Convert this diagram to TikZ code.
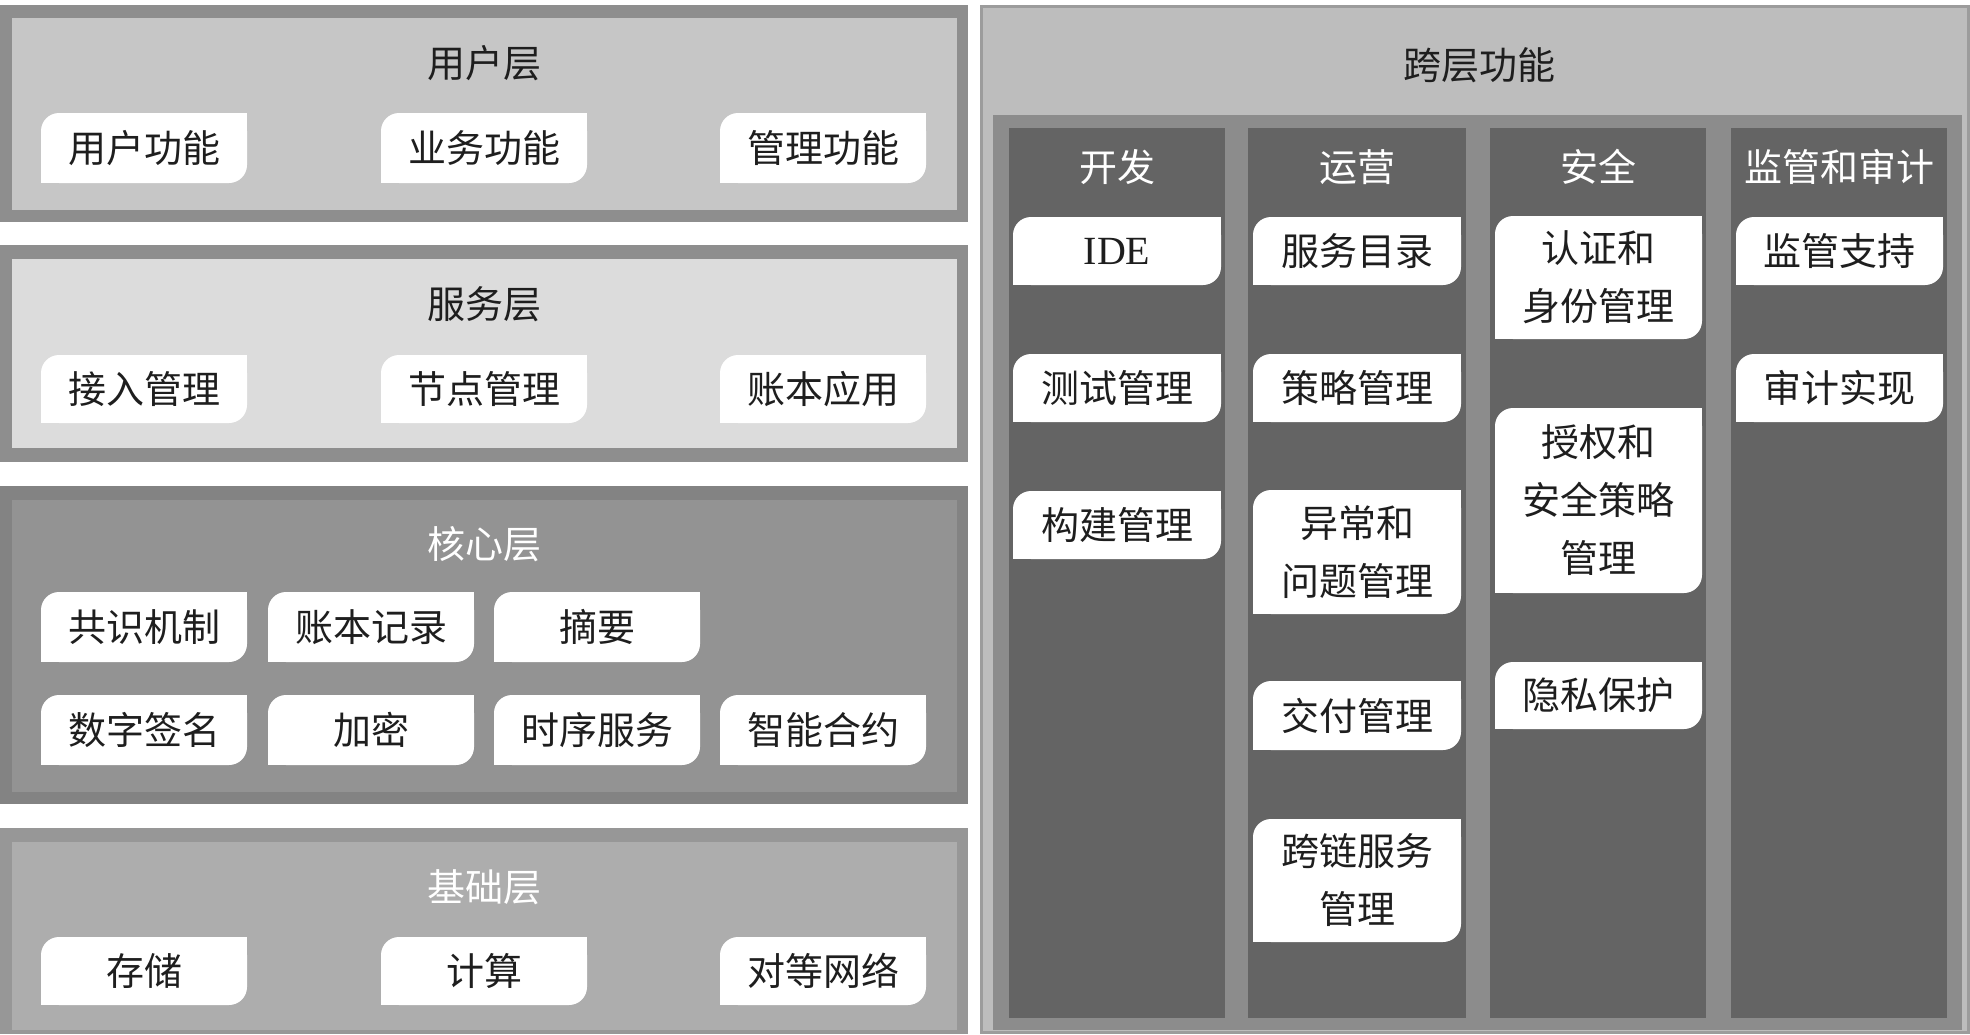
\documentclass[tikz,border=0pt]{standalone}
\usepackage{fontspec}
\newfontfamily\cjk{Noto Sans CJK SC}
\definecolor{pOneB}{HTML}{8E8E8E}
\definecolor{pOneF}{HTML}{C6C6C6}
\definecolor{pTwoB}{HTML}{8E8E8E}
\definecolor{pTwoF}{HTML}{DCDCDC}
\definecolor{pThrB}{HTML}{838383}
\definecolor{pThrF}{HTML}{939393}
\definecolor{pFouB}{HTML}{979797}
\definecolor{pFouF}{HTML}{ADADAD}
\definecolor{rOutF}{HTML}{BDBDBD}
\definecolor{rOutB}{HTML}{9C9C9C}
\definecolor{rFrame}{HTML}{8C8C8C}
\definecolor{rCol}{HTML}{646464}
\definecolor{txt}{HTML}{1E1E1E}
\tikzset{
  leafbox/.style={rectangle, fill=white, rounded corners=18pt, inner sep=0pt, align=center,
    font=\cjk\fontsize{38}{58}\selectfont, text=txt},
  ttl/.style={font=\cjk\fontsize{38}{44}\selectfont, text=#1, inner sep=0pt},
}
\newcommand\leaf[6]{%
  \pgfmathsetmacro\lw{#4-#2}\pgfmathsetmacro\lh{#5-#3}%
  \node[leafbox, minimum width=\lw pt, minimum height=\lh pt] (#1) at ({(#2+#4)/2},{(#3+#5)/2}) {#6};
  \fill[white] (#1.north east) rectangle ++(-20,20);
  \fill[white] (#1.south west) rectangle ++(20,-20);
}
\begin{document}
\begin{tikzpicture}[x=1pt,y=-1pt]
\useasboundingbox (0,0) rectangle (1970,1034);
\fill[white] (0,0) rectangle (1970,1034);
% left panels
\fill[pOneB] (0,5) rectangle (968,222);
\fill[pOneF] (12,18) rectangle (957,210);
\fill[pTwoB] (0,245) rectangle (968,462);
\fill[pTwoF] (12,259) rectangle (957,448);
\fill[pThrB] (0,486) rectangle (968,804);
\fill[pThrF] (12,500) rectangle (957,792);
\fill[pFouB] (0,828) rectangle (968,1034);
\fill[pFouF] (12,842) rectangle (957,1030);
% titles
\node[ttl=txt] (tUser) at (484,63) {用户层};
\node[ttl=txt] (tServ) at (484,304) {服务层};
\node[ttl=white] (tCore) at (484,544) {核心层};
\node[ttl=white] (tBase) at (484,887) {基础层};
% user layer
\leaf{u1}{41}{113}{247}{183}{用户功能}
\leaf{u2}{381}{113}{587}{183}{业务功能}
\leaf{u3}{720}{113}{926}{183}{管理功能}
% service layer
\leaf{s1}{41}{355}{247}{423}{接入管理}
\leaf{s2}{381}{355}{587}{423}{节点管理}
\leaf{s3}{720}{355}{926}{423}{账本应用}
% core layer
\leaf{c1}{41}{592}{247}{662}{共识机制}
\leaf{c2}{268}{592}{474}{662}{账本记录}
\leaf{c3}{494}{592}{700}{662}{摘要}
\leaf{c4}{41}{695}{247}{765}{数字签名}
\leaf{c5}{268}{695}{474}{765}{加密}
\leaf{c6}{494}{695}{700}{765}{时序服务}
\leaf{c7}{720}{695}{926}{765}{智能合约}
% base layer
\leaf{b1}{41}{937}{247}{1005}{存储}
\leaf{b2}{381}{937}{587}{1005}{计算}
\leaf{b3}{720}{937}{926}{1005}{对等网络}
% right panel
\filldraw[fill=rOutF, draw=rOutB, line width=3pt] (981.5,6.5) rectangle (1968.5,1032.5);
\node[ttl=txt] (tCross) at (1479,65) {跨层功能};
\fill[rFrame] (993,115) rectangle (1962,1030);
\fill[rCol] (1009,128) rectangle (1225,1018);
\fill[rCol] (1248,128) rectangle (1466,1018);
\fill[rCol] (1490,128) rectangle (1706,1018);
\fill[rCol] (1731,128) rectangle (1947,1018);
\node[ttl=white] (hDev) at (1117,167) {开发};
\node[ttl=white] (hOps) at (1357,167) {运营};
\node[ttl=white] (hSec) at (1598,167) {安全};
\node[ttl=white] (hAud) at (1839,167) {监管和审计};
% dev
\leaf{d1}{1013}{217}{1221}{285}{\fontspec{Liberation Serif}\fontsize{40}{48}\selectfont IDE}
\leaf{d2}{1013}{354}{1221}{422}{测试管理}
\leaf{d3}{1013}{491}{1221}{559}{构建管理}
% ops
\leaf{o1}{1253}{217}{1461}{285}{服务目录}
\leaf{o2}{1253}{354}{1461}{422}{策略管理}
\leaf{o3}{1253}{490}{1461}{614}{异常和\\问题管理}
\leaf{o4}{1253}{681}{1461}{750}{交付管理}
\leaf{o5}{1253}{819}{1461}{942}{跨链服务\\管理}
% security
\leaf{e1}{1495}{216}{1702}{339}{认证和\\身份管理}
\leaf{e2}{1495}{408}{1702}{593}{授权和\\安全策略\\管理}
\leaf{e3}{1495}{662}{1702}{729}{隐私保护}
% audit
\leaf{a1}{1736}{217}{1943}{285}{监管支持}
\leaf{a2}{1736}{354}{1943}{422}{审计实现}
\end{tikzpicture}
\end{document}
